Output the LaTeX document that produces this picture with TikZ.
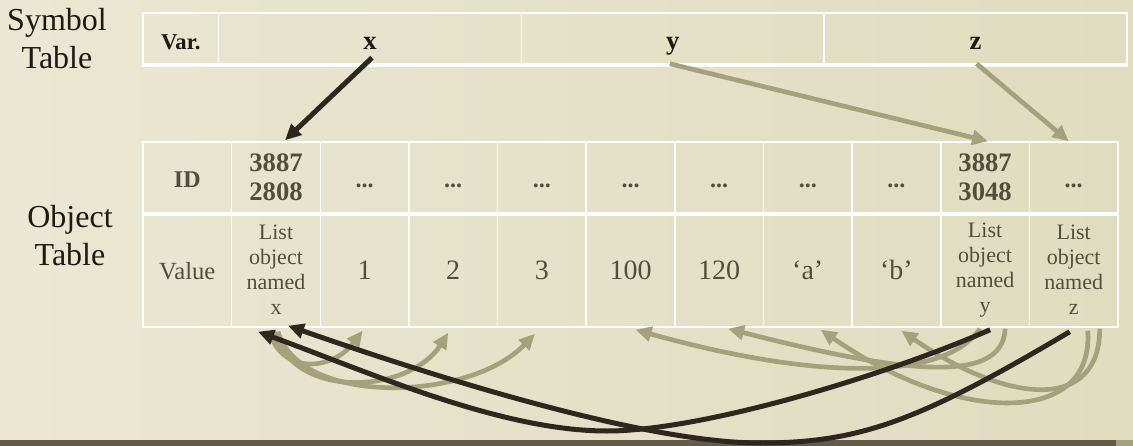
\documentclass[tikz,border=0pt]{standalone}
\usepackage{fontspec}
\setmainfont{Liberation Serif}
\usetikzlibrary{arrows.meta}
\definecolor{paperlight}{HTML}{EAE7D3}
\definecolor{paperdark}{HTML}{DFDCBF}
\definecolor{inkdark}{HTML}{1E1912}
\definecolor{inkgrey}{HTML}{544D3E}
\definecolor{arrowdark}{HTML}{2C2820}
\definecolor{arrowolive}{HTML}{A4A17C}
\definecolor{barbrown}{HTML}{645C48}
\begin{document}
\begin{tikzpicture}[x=0.75pt,y=-0.75pt,
        sidelabel/.style={align=center,inner sep=0pt,text=inkdark,font=\fontsize{24}{28.5}\selectfont},
        symcell/.style={draw=white,line width=1.1pt,minimum height=38.25pt,minimum width=227.1pt,inner sep=0pt,text height=16.5pt,text depth=0pt,text=inkdark,font=\fontsize{20}{24}\selectfont\bfseries},
        objcell/.style={draw=white,line width=1.1pt,minimum width=66.48pt,inner sep=0pt,text=inkgrey},
        idrow/.style={objcell,minimum height=53.25pt,font=\fontsize{18}{21}\selectfont\bfseries},
        valrow/.style={objcell,minimum height=85.5pt,font=\fontsize{21}{24}\selectfont},
        oneline/.style={text height=#1,text depth=0pt},
        darkarrow/.style={draw=arrowdark,line width=3.75pt,-{Triangle[length=12pt,width=11pt]}},
        olivearrow/.style={draw=arrowolive,line width=3.5pt,-{Triangle[length=12pt,width=11pt]}}]
    \useasboundingbox (0,0) rectangle (1133,446);
    \shade[left color=paperlight,right color=paperdark] (0,0) rectangle (1133,446);
    \fill[barbrown] (0,440) rectangle (1116,446);
    \fill[arrowolive] (1116,440) rectangle (1133,446);

    \node[sidelabel] (symlabel) at (57,39) {Symbol\\Table};
    \node[sidelabel] (objlabel) at (70,236) {Object\\Table};

    \node[symcell,minimum width=56.7pt,font=\fontsize{17}{20}\selectfont\bfseries] (var) at (180.8,38.5) {Var.};
    \node[symcell] (symx) at (370,38.5) {x};
    \node[symcell] (symy) at (672.8,38.5) {y};
    \node[symcell] (symz) at (975.6,38.5) {z};
    \draw[white,line width=3pt] (var.south west) -- (symz.south east);

    \node[idrow,oneline=14.25pt] (idlabel) at (187.3,177.5) {ID};
    \node[idrow,align=center,font=\fontsize{20}{21.75}\selectfont\bfseries] (id1) at (276,177.5) {3887\\2808};
    \foreach \i in {2,...,8}
        \node[idrow,oneline=14.25pt] (id\i) at ({143+88.636*(\i+0.5)},177.5) {...};
    \node[idrow,align=center,font=\fontsize{20}{21.75}\selectfont\bfseries] (id9) at (985.1,177.5) {3887\\3048};
    \node[idrow,oneline=14.25pt] (id10) at (1073.7,177.5) {...};

    \node[valrow,oneline=13.5pt,font=\fontsize{18.5}{22}\selectfont] (vallabel) at (187.3,270) {Value};
    \node[valrow,align=center,font=\fontsize{16.5}{18.75}\selectfont] (val1) at (276,270) {List\\object\\named\\x};
    \foreach \i/\v in {2/1,3/2,4/3,5/100,6/120,7/‘a’,8/‘b’}
        \node[valrow,oneline=13.5pt] (val\i) at ({143+88.636*(\i+0.5)},270) {\v};
    \node[valrow,align=center,font=\fontsize{16.5}{18.75}\selectfont] (val9) at (985.1,270) {List\\object\\named\\y};
    \node[valrow,align=center,font=\fontsize{16.5}{18.75}\selectfont] (val10) at (1073.7,270) {List\\object\\named\\z};
    \draw[white,line width=3pt] (idlabel.south west) -- (id10.south east);

    \draw[darkarrow] ([shift={(2,-7)}]symx.south) -- ([shift={(9,-1)}]id1.north);
    \draw[olivearrow] ([shift={(-3,-1)}]symy.south) -- ([shift={(3,0)}]id9.north);
    \draw[olivearrow] ([shift={(1,-1)}]symz.south) -- ([shift={(-5,0)}]id10.north);

    \draw[olivearrow] ([shift={(-6,4)}]val1.south) .. controls +(10,41) and +(-32,42) .. ([shift={(-2,3)}]val2.south);
    \draw[olivearrow] ([shift={(-2,4)}]val1.south) .. controls +(21,70) and +(-38,60) .. ([shift={(-5,5)}]val3.south);
    \draw[olivearrow] ([shift={(2,4)}]val1.south) .. controls +(22,75) and +(-65,68) .. ([shift={(-7,6)}]val4.south);
    \draw[olivearrow] ([shift={(-5,1)}]val9.south) .. controls +(-40,57) and +(164,46) .. ([shift={(5,2)}]val5.south);
    \draw[olivearrow] ([shift={(20,1)}]val9.south) .. controls +(-2,57) and +(172,44) .. ([shift={(9,1)}]val6.south);
    \draw[olivearrow] ([shift={(14,3)}]val10.south) .. controls +(7,95) and +(139,96) .. ([shift={(13,2)}]val7.south);
    \draw[olivearrow] ([shift={(26,1)}]val10.south) .. controls +(0,82) and +(109,75) .. ([shift={(5,3)}]val8.south);

    \coordinate (ydip) at (607,431);
    \coordinate (zdip) at (760,443);
    \draw[darkarrow] ([shift={(5,2)}]val9.south) .. controls +(-110,48) and +(93,0) .. (ydip)
        .. controls +(-107,0) and +(110,40) .. ([shift={(-18,4)}]val1.south);
    \draw[darkarrow] ([shift={(-4,4)}]val10.south) .. controls +(-150,89) and +(100,0) .. (zdip)
        .. controls +(-120,0) and +(132,46) .. ([shift={(12,-2)}]val1.south);
\end{tikzpicture}
\end{document}
